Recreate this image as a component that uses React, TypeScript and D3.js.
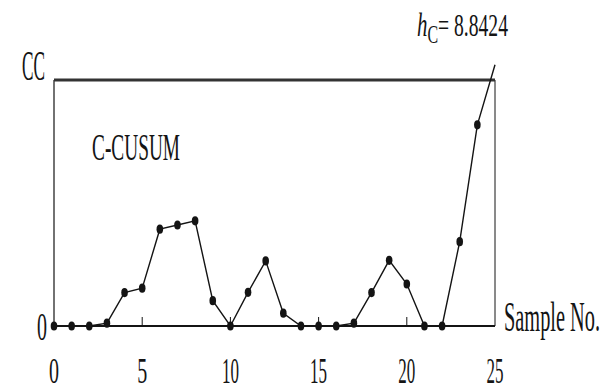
import React from 'react';
import * as d3 from 'd3';

// C-CUSUM statistic per sample
const samples = [0, 1, 2, 3, 4, 5, 6, 7, 8, 9, 10, 11, 12, 13, 14, 15, 16, 17, 18, 19, 20, 21, 22, 23, 24, 25];
const cusum = [0, 0, 0, 0.1, 1.2, 1.36, 3.48, 3.63, 3.78, 0.91, 0, 1.21, 2.34, 0.46, 0, 0, 0, 0.1, 1.2, 2.36, 1.51, 0, 0, 3.03, 7.23, 9.39];
// last sample runs past the limit and has no dot
const hasMarker = samples.map((s) => s < 25);
const xTicks = [0, 5, 10, 15, 20, 25];
const minorTicks = [5, 10, 15, 20];
const hC = 8.8424;

const W = 609;
const H = 387;
const FONT = '"Liberation Serif", "DejaVu Serif", serif';
const INK = '#141414';

const App: React.FC = () => {
  const x = d3.scaleLinear().domain([0, 25]).range([54, 495]);
  const y = d3.scaleLinear().domain([0, hC]).range([326, 80]);

  const pts = samples.map((s, i) => ({ s, v: cusum[i], m: hasMarker[i] }));
  const path = d3
    .line<{ s: number; v: number }>()
    .x((d) => x(d.s))
    .y((d) => y(d.v))(pts);

  return (
    <svg width={W} height={H} style={{ position: 'absolute', left: 0, top: 0, background: '#fff' }}>
      {/* frame */}
      <line x1={x(0)} x2={x(0)} y1={y(hC)} y2={y(0)} stroke={INK} strokeWidth={1.2} />
      <line x1={x(25)} x2={x(25)} y1={y(hC)} y2={y(0)} stroke={INK} strokeWidth={1} />
      <line x1={x(0)} x2={x(25)} y1={y(hC)} y2={y(hC)} stroke="#333" strokeWidth={3} />
      <line x1={x(0)} x2={x(25)} y1={y(0)} y2={y(0)} stroke={INK} strokeWidth={2} />
      {minorTicks.map((t) => (
        <line key={t} x1={x(t)} x2={x(t)} y1={y(0)} y2={y(0) - 9} stroke={INK} strokeWidth={1} />
      ))}

      {/* series */}
      <path d={path || ''} fill="none" stroke={INK} strokeWidth={1.4} />
      {pts.filter((p) => p.m).map((p) => (
        <ellipse key={p.s} cx={x(p.s)} cy={y(p.v)} rx={3.3} ry={4.6} fill={INK} />
      ))}

      {/* tick labels */}
      {xTicks.map((t) => {
        const w = t < 10 ? 10 : 17;
        return (
          <text key={t} x={x(t) - w / 2} y={383} fontFamily={FONT} fontSize={35} fill={INK}
            textLength={w} lengthAdjust="spacingAndGlyphs">
            {t}
          </text>
        );
      })}

      <text x={37} y={340} fontFamily={FONT} fontSize={40} fill={INK} textLength={10} lengthAdjust="spacingAndGlyphs">0</text>
      <text x={22} y={80} fontFamily={FONT} fontSize={42} fill={INK} textLength={23} lengthAdjust="spacingAndGlyphs">CC</text>
      <text x={92} y={160} fontFamily={FONT} fontSize={38} fill={INK} textLength={88} lengthAdjust="spacingAndGlyphs">C-CUSUM</text>
      <text x={504} y={331} fontFamily={FONT} fontSize={42} fill={INK} textLength={96} lengthAdjust="spacingAndGlyphs">Sample No.</text>

      {/* limit label */}
      <text x={417} y={36} fontFamily={FONT} fontSize={32} fill={INK} textLength={91} lengthAdjust="spacingAndGlyphs">
        <tspan fontStyle="italic" fontSize={34}>h</tspan>
        <tspan fontSize={26} dy={7}>C</tspan>
        <tspan dy={-7}>= 8.8424</tspan>
      </text>
    </svg>
  );
};

export default App;
